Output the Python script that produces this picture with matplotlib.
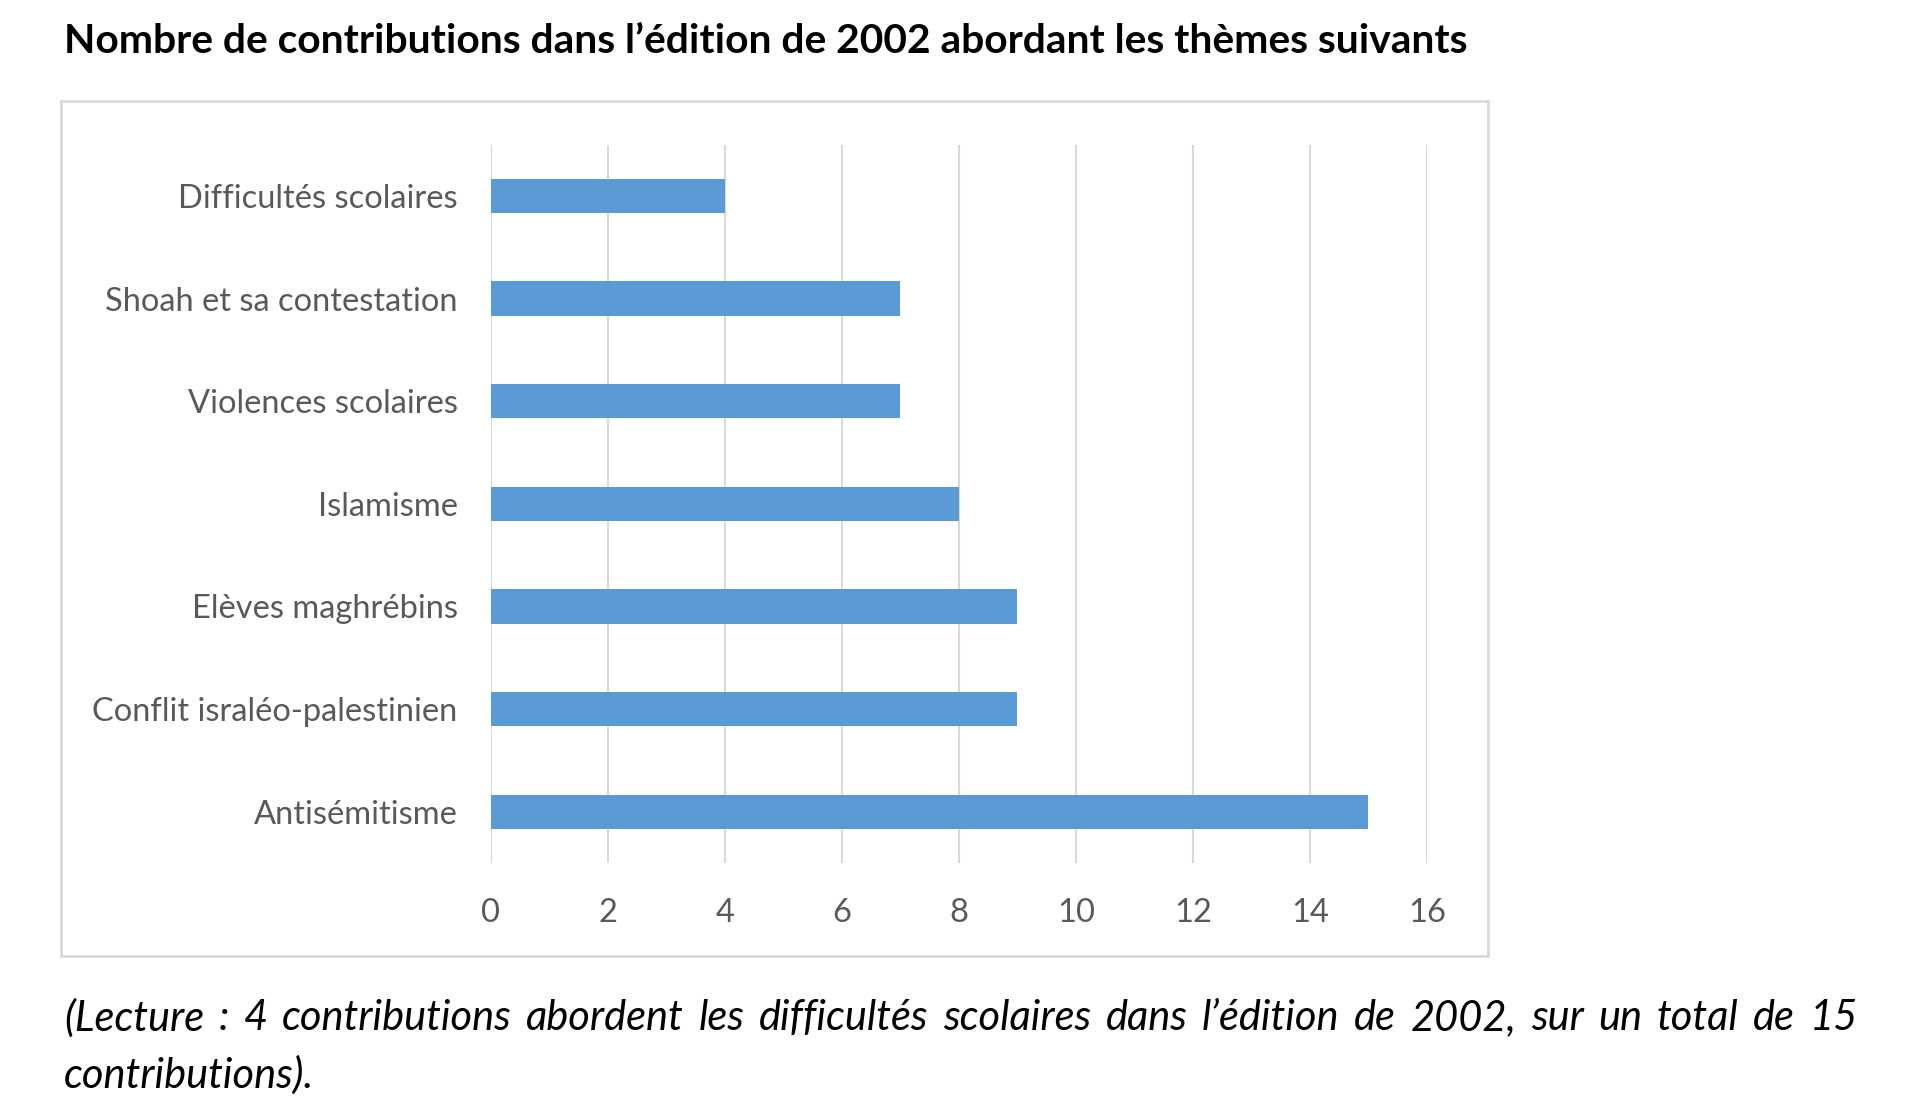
import matplotlib
matplotlib.use('agg')
import matplotlib.pyplot as plt
from matplotlib.patches import Rectangle

# data (bottom to top, as drawn)
themes = ['Antisémitisme', 'Conflit israléo-palestinien', 'Elèves maghrébins',
          'Islamisme', 'Violences scolaires', 'Shoah et sa contestation',
          'Difficultés scolaires']
counts = [15, 9, 9, 8, 7, 7, 4]
x_ticks = [0, 2, 4, 6, 8, 10, 12, 14, 16]

title = 'Nombre de contributions dans l\u2019édition de 2002 abordant les thèmes suivants'
caption_1 = '(Lecture : 4 contributions abordent les difficultés scolaires dans l\u2019édition de 2002, sur un total de 15'
caption_2 = 'contributions).'

plt.rcParams['font.family'] = ['Lato', 'DejaVu Sans']

fig = plt.figure(figsize=(19.2, 11.11), dpi=100)
fig.patch.set_facecolor('white')

# outer chart frame
fig.patches.append(Rectangle((0.0318, 0.1395), 0.7432, 0.7695, transform=fig.transFigure,
                             fill=False, edgecolor='#d9d9d9', linewidth=2))

ax = fig.add_axes([0.2557, 0.2232, 0.4875, 0.6467])
ax.barh(range(len(themes)), counts, height=1/3, color='#5b9bd5', zorder=3)
ax.set_ylim(-0.5, len(themes) - 0.5)
ax.set_xlim(0, 16)
ax.set_xticks(x_ticks)
ax.set_xticklabels([str(t) for t in x_ticks])
ax.set_yticks(range(len(themes)))
ax.set_yticklabels(themes)
ax.grid(axis='x', color='#d9d9d9', linewidth=1.5, zorder=0)
ax.tick_params(length=0, labelcolor='#595959', labelsize=23.5)
ax.tick_params(axis='x', pad=25)
ax.tick_params(axis='y', pad=24)
for s in ax.spines.values():
    s.set_visible(False)

fig.text(0.0333, 0.963, title, fontsize=29.3, fontweight='bold', va='center', ha='left')

# justified first caption line, plain second line
renderer = fig.canvas.get_renderer()
x0, x1 = 0.0333 * 1920, 0.9675 * 1920
words = caption_1.split(' ')
texts = [fig.text(0, 0.0837, w, fontsize=30, style='italic', va='center', ha='left')
         for w in words]
widths = [t.get_window_extent(renderer).width for t in texts]
gap = (x1 - x0 - sum(widths)) / (len(words) - 1)
x = x0
for t, w in zip(texts, widths):
    t.set_x(x / 1920)
    x += w + gap
fig.text(0.0333, 0.0324, caption_2, fontsize=30, style='italic', va='center', ha='left')

fig.savefig('out.png', dpi=100)
